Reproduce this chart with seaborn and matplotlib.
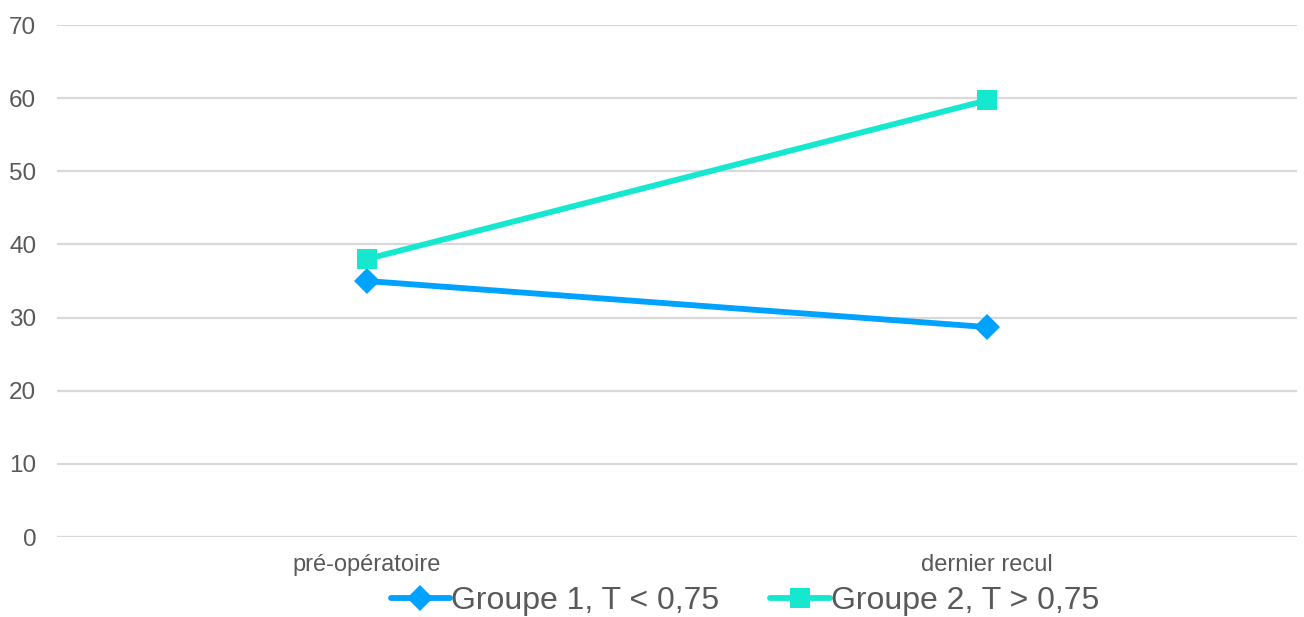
import matplotlib
matplotlib.use("Agg")
import matplotlib.pyplot as plt
import seaborn as sns
import pandas as pd

categories = ["pré-opératoire", "dernier recul"]
groupe1 = [35.0, 28.7]
groupe2 = [38.0, 59.7]
series_names = ["Groupe 1, T < 0,75", "Groupe 2, T > 0,75"]
y_ticks = [0, 10, 20, 30, 40, 50, 60, 70]

sns.set_theme(style="white")
plt.rcParams["font.family"] = ["Liberation Sans", "DejaVu Sans"]

df = pd.DataFrame({
    "cat": categories * 2,
    "val": groupe1 + groupe2,
    "serie": [series_names[0]] * 2 + [series_names[1]] * 2,
})

fig = plt.figure(figsize=(13.04, 6.17), dpi=100)
ax = fig.add_axes([57 / 1304, 1 - 537 / 617, (1297 - 57) / 1304, (537 - 25) / 617])

palette = {series_names[0]: "#00A2FF", series_names[1]: "#16E7CF"}
markers = {series_names[0]: "D", series_names[1]: "s"}
sizes = {series_names[0]: 13, series_names[1]: 14.5}

for name in series_names:
    sub = df[df["serie"] == name]
    sns.lineplot(data=sub, x="cat", y="val", ax=ax, color=palette[name],
                 linewidth=4.2, marker=markers[name], markersize=sizes[name],
                 markeredgewidth=0, label=name, sort=False, legend=False)

ax.set_xlim(-0.5, 1.5)
ax.set_ylim(0, 70)
ax.set_yticks(y_ticks)
ax.yaxis.grid(True, color="#D9D9D9", linewidth=1.6)
ax.set_axisbelow(True)
for s in ax.spines.values():
    s.set_visible(False)
ax.set_xlabel("")
ax.set_ylabel("")
ax.tick_params(axis="y", labelsize=17.5, labelcolor="#595959", length=0, pad=15)
ax.tick_params(axis="x", labelsize=17, labelcolor="#595959", length=0, pad=12)

handles, labels = ax.get_legend_handles_labels()
fig.legend(handles, labels, loc="center", bbox_to_anchor=(745 / 1304, 1 - 601 / 617),
           ncol=2, frameon=False, fontsize=23, handlelength=1.85, handletextpad=0.05,
           columnspacing=1.6, labelcolor="#595959", borderpad=0, borderaxespad=0)

fig.savefig("out.png", dpi=100)
